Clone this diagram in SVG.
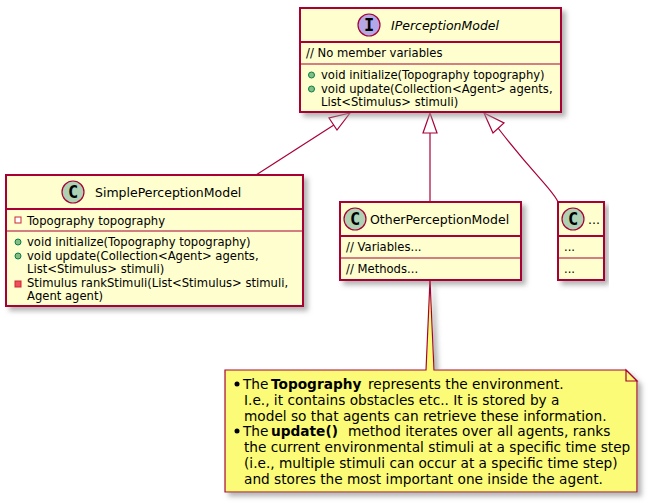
<svg xmlns="http://www.w3.org/2000/svg" width="648" height="504" viewBox="0 0 648 504">
<style>
text{font-family:"DejaVu Sans",sans-serif;fill:#000}
.t{font-size:12.5px}
.m{font-size:11.6px}
.n{font-size:13.7px}
.b{font-weight:bold}
.box{fill:#FEFECE;stroke:#A80036;stroke-width:2}
.ln{stroke:#A80036;stroke-width:1.2;fill:none}
.hd{stroke:#A80036;stroke-width:2;fill:none}
.arr{fill:#fff;stroke:#A80036;stroke-width:1.2}
.c{fill:#ADD1B2;stroke:#A80036;stroke-width:1.2}
.i{fill:#B4A7E5;stroke:#A80036;stroke-width:1.2}
.pub{fill:#84BE84;stroke:#038048;stroke-width:1}
.pri{fill:#fff;stroke:#C82930;stroke-width:1}
.prm{fill:#F24D5C;stroke:#C82930;stroke-width:1}
.shad{filter:url(#s)}
.g{font-size:17px;font-weight:bold;font-family:"DejaVu Sans Mono",monospace}
</style>
<defs>
<filter id="s" x="-10%" y="-10%" width="120%" height="125%"><feGaussianBlur in="SourceAlpha" stdDeviation="2.4"/><feOffset dx="4" dy="4"/><feColorMatrix type="matrix" values="0 0 0 0 0.3 0 0 0 0 0.3 0 0 0 0 0.3 0 0 0 0.7 0"/><feMerge><feMergeNode/><feMergeNode in="SourceGraphic"/></feMerge></filter>
</defs>
<g id="connectors">
<path class="ln" d="M256 175 L337 123"/>
<path class="arr" d="M350 113 L329 118 L337 130 Z"/>
<path class="ln" d="M430 202 L430 133"/>
<path class="arr" d="M430 113 L423 133 L437 133 Z"/>
<path class="ln" d="M558 202 C553 190 535 176 498 128"/>
<path class="arr" d="M484 113 L493 133 L504 123 Z"/>
</g>
<g id="IPerceptionModel">
<rect class="box shad" x="300" y="8" width="261" height="104"/>
<path class="hd" d="M300 42H561"/><path class="ln" d="M300 64H561"/>
<circle class="i" cx="369" cy="25" r="11"/>
<text class="g" x="369" y="31" text-anchor="middle">I</text>
<text class="t" x="391" y="30" font-style="italic">IPerceptionModel</text>
<text class="m" x="306" y="57">// No member variables</text>
<circle class="pub" cx="311.500" cy="75" r="3"/>
<text class="m" x="321" y="79">void initialize(Topography topography)</text>
<circle class="pub" cx="311.500" cy="89" r="3"/>
<text class="m" x="321" y="93">void update(Collection&lt;Agent&gt; agents,</text>
<text class="m" x="321" y="106">List&lt;Stimulus&gt; stimuli)</text>
</g>
<g id="SimplePerceptionModel">
<rect class="box shad" x="6" y="175" width="297" height="131"/>
<path class="hd" d="M6 209H303"/><path class="ln" d="M6 231H303"/>
<circle class="c" cx="73" cy="192" r="11"/>
<text class="g" x="73" y="198" text-anchor="middle">C</text>
<text class="t" x="95" y="197">SimplePerceptionModel</text>
<rect class="pri" x="15" y="217" width="6" height="6"/>
<text class="m" x="27" y="225">Topography topography</text>
<circle class="pub" cx="18" cy="242" r="3"/>
<text class="m" x="27" y="246">void initialize(Topography topography)</text>
<circle class="pub" cx="18" cy="256" r="3"/>
<text class="m" x="27" y="260">void update(Collection&lt;Agent&gt; agents,</text>
<text class="m" x="27" y="273">List&lt;Stimulus&gt; stimuli)</text>
<rect class="prm" x="15" y="281" width="6" height="6"/>
<text class="m" x="27" y="287">Stimulus rankStimuli(List&lt;Stimulus&gt; stimuli,</text>
<text class="m" x="27" y="300">Agent agent)</text>
</g>
<g id="OtherPerceptionModel">
<rect class="box shad" x="340" y="202" width="181" height="78"/>
<path class="hd" d="M340 236H521"/><path class="ln" d="M340 258H521"/>
<circle class="c" cx="355" cy="219" r="11"/>
<text class="g" x="355" y="225" text-anchor="middle">C</text>
<text class="t" x="370" y="224">OtherPerceptionModel</text>
<text class="m" x="346" y="251">// Variables...</text>
<text class="m" x="346" y="273">// Methods...</text>
</g>
<g id="Ellipsis">
<rect class="box shad" x="558" y="202" width="46" height="78"/>
<path class="hd" d="M558 236H604"/><path class="ln" d="M558 258H604"/>
<circle class="c" cx="573" cy="219" r="11"/>
<text class="g" x="573" y="225" text-anchor="middle">C</text>
<text class="t" x="588" y="224">...</text>
<text class="m" x="564" y="251">...</text>
<text class="m" x="564" y="273">...</text>
</g>
<g id="Note">
<path class="shad" fill="#FBFB77" stroke="#A80036" stroke-width="1.2" d="M225 370H426L430 280L434 370H626L637 381V492H225Z"/>
<path fill="#FBFB77" stroke="#A80036" stroke-width="1.2" d="M626 370V381H637Z"/>
<circle cx="237" cy="384" r="2.500"/>
<text class="n" x="243" y="389">The</text>
<text class="n b" x="271" y="389">Topography</text>
<text class="n" x="368" y="389">represents the environment.</text>
<text class="n" x="244" y="405">I.e., it contains obstacles etc.. It is stored by a</text>
<text class="n" x="244" y="421">model so that agents can retrieve these information.</text>
<circle cx="237" cy="431" r="2.500"/>
<text class="n" x="243" y="436">The</text>
<text class="n b" x="271" y="436">update()</text>
<text class="n" x="348" y="436">method iterates over all agents, ranks</text>
<text class="n" x="244" y="452">the current environmental stimuli at a specific time step</text>
<text class="n" x="244" y="468">(i.e., multiple stimuli can occur at a specific time step)</text>
<text class="n" x="244" y="484">and stores the most important one inside the agent.</text>
</g>
</svg>
